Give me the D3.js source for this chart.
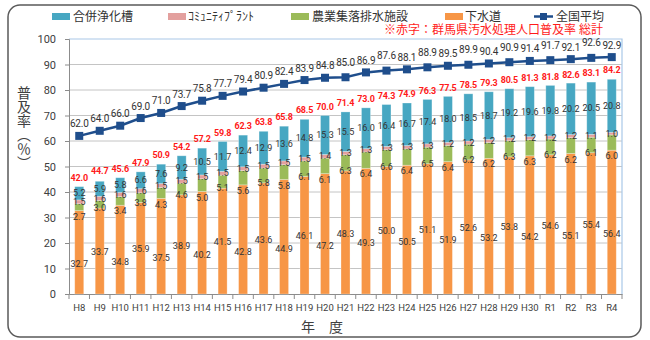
<!DOCTYPE html>
<html>
<head>
<meta charset="utf-8">
<script src="https://cdn.jsdelivr.net/npm/d3@7"></script>
<style>
  body { margin: 0; background: #fff; }
  svg text { font-family: Roboto, "Noto Sans CJK JP", sans-serif; }
</style>
</head>
<body>
<div id="chart"></div>
<script>
// 年度
const categories = ['H8','H9','H10','H11','H12','H13','H14','H15','H16','H17','H18','H19','H20',
  'H21','H22','H23','H24','H25','H26','H27','H28','H29','H30','R1','R2','R3','R4'];

// 下水道
const sewer = [32.7,33.7,34.8,35.9,37.5,38.9,40.2,41.5,42.8,43.6,44.9,46.1,47.2,
  48.3,49.3,50.0,50.5,51.1,51.9,52.6,53.2,53.8,54.2,54.6,55.1,55.4,56.4];
// 農業集落排水施設
const rural = [2.7,3.0,3.4,3.8,4.3,4.6,5.0,5.1,5.6,5.8,5.8,6.1,6.1,
  6.3,6.4,6.6,6.4,6.5,6.4,6.2,6.2,6.3,6.3,6.2,6.2,6.1,6.0];
// コミュニティプラント
const community = [1.5,1.6,1.6,1.6,1.5,1.5,1.5,1.5,1.5,1.5,1.5,1.5,1.4,
  1.3,1.3,1.3,1.3,1.3,1.2,1.2,1.2,1.2,1.2,1.2,1.2,1.1,1.0];
// 合併浄化槽
const johkasou = [5.2,5.9,5.8,6.6,7.6,9.2,10.5,11.7,12.4,12.9,13.6,14.8,15.3,
  15.5,16.0,16.4,16.7,17.4,18.0,18.5,18.7,19.2,19.6,19.8,20.2,20.5,20.8];
// 群馬県 総計 (赤字)
const totals = [42.0,44.7,45.6,47.9,50.9,54.2,57.2,59.8,62.3,63.8,65.8,68.5,70.0,
  71.4,73.0,74.3,74.9,76.3,77.5,78.5,79.3,80.5,81.3,81.8,82.6,83.1,84.2];
// 全国平均
const national = [62.0,64.0,66.0,69.0,71.0,73.7,75.8,77.7,79.4,80.9,82.4,83.9,84.8,
  85.0,86.9,87.6,88.1,88.9,89.5,89.9,90.4,90.9,91.4,91.7,92.1,92.6,92.9];

const yTicks = [0,10,20,30,40,50,60,70,80,90,100];

const keys = ['sewer','rural','community','johkasou'];
const names = { sewer: '下水道', rural: '農業集落排水施設', community: 'ｺﾐｭﾆﾃｨﾌﾟﾗﾝﾄ', johkasou: '合併浄化槽' };
const colors = { sewer: '#F79646', rural: '#9BBB59', community: '#E3A09E', johkasou: '#47A7C2' };

const rows = categories.map((c, i) => ({
  cat: c, i: i, sewer: sewer[i], rural: rural[i], community: community[i], johkasou: johkasou[i]
}));

const W = 650, H = 340;
const svg = d3.select('#chart').append('svg').attr('width', W).attr('height', H);

// outer rounded frame
svg.append('rect')
  .attr('x', 8).attr('y', 5).attr('width', 633).attr('height', 332)
  .attr('rx', 12).attr('ry', 12)
  .attr('fill', '#fff').attr('stroke', '#5a5a5a').attr('stroke-width', 1.5);

const plot = { left: 69, right: 622, top: 39, bottom: 294 };

const x = d3.scaleBand()
  .domain(categories)
  .range([plot.left, plot.right])
  .paddingInner(0.56)
  .paddingOuter(0.28);

const y = d3.scaleLinear().domain([0, 100]).range([plot.bottom, plot.top]);
const cx = i => x(categories[i]) + x.bandwidth() / 2;

// grid lines
svg.append('g').selectAll('line')
  .data(yTicks.filter(d => d > 0 && d < 100))
  .enter().append('line')
    .attr('x1', plot.left).attr('x2', plot.right)
    .attr('y1', d => y(d)).attr('y2', d => y(d))
    .attr('stroke', '#c4c4c4').attr('stroke-width', 1);

// plot border top/right (light blue)
svg.append('path')
  .attr('d', `M${plot.left},${y(100)}H${plot.right}V${plot.bottom}`)
  .attr('fill', 'none').attr('stroke', '#a9c8e8').attr('stroke-width', 1.2);

// y axis
const yAxis = svg.append('g')
  .attr('transform', `translate(${plot.left},0)`)
  .call(d3.axisLeft(y).tickValues(yTicks).tickSize(4).tickPadding(9).tickFormat(d3.format('d')));
yAxis.select('.domain').attr('stroke', '#8c8c8c');
yAxis.selectAll('.tick line').attr('stroke', '#8c8c8c');
yAxis.selectAll('.tick text').attr('font-size', 11).attr('fill', '#404040');

// x axis
const xAxis = svg.append('g')
  .attr('transform', `translate(0,${plot.bottom})`)
  .call(d3.axisBottom(x).tickSize(0).tickPadding(10));
xAxis.select('.domain').attr('stroke', '#8c8c8c');
xAxis.selectAll('.tick text').attr('font-size', 9.5).attr('fill', '#404040');
svg.append('g').selectAll('line')
  .data(d3.range(categories.length + 1))
  .enter().append('line')
    .attr('x1', i => plot.left + i * x.step()).attr('x2', i => plot.left + i * x.step())
    .attr('y1', plot.bottom).attr('y2', plot.bottom + 5)
    .attr('stroke', '#8c8c8c');

// stacked bars
const stacked = d3.stack().keys(keys)(rows);
const layers = svg.append('g').selectAll('g')
  .data(stacked)
  .enter().append('g')
    .attr('fill', d => colors[d.key]);
layers.selectAll('rect')
  .data(d => d)
  .enter().append('rect')
    .attr('x', d => x(d.data.cat))
    .attr('y', d => y(d[1]))
    .attr('width', x.bandwidth())
    .attr('height', d => y(d[0]) - y(d[1]))
    .attr('stroke', 'rgba(255,255,255,0.35)')
    .attr('stroke-width', 0.8);

// segment value labels
function labelY(key, d) {
  const i = d.data.i;
  const mid = (y(d[0]) + y(d[1])) / 2;
  if (key === 'sewer') return mid + (i % 2 === 0 ? 12 : 1);
  if (key === 'rural') return y(d[0]) + (i % 2 === 0 ? 6 : 0);
  return mid;
}
const labelLayers = svg.append('g').selectAll('g')
  .data(stacked)
  .enter().append('g');
labelLayers.selectAll('text')
  .data(d => d.map(s => ({ key: d.key, s: s })))
  .enter().append('text')
    .attr('x', d => cx(d.s.data.i))
    .attr('y', d => labelY(d.key, d.s))
    .attr('dy', '0.35em')
    .attr('text-anchor', 'middle')
    .attr('font-size', 9)
    .attr('fill', '#333')
    .text(d => d3.format('.1f')(d.s.data[d.key]));

// red totals
svg.append('g').selectAll('text')
  .data(totals)
  .enter().append('text')
    .attr('x', (d, i) => cx(i))
    .attr('y', d => y(d) - 9)
    .attr('dy', '0.35em')
    .attr('text-anchor', 'middle')
    .attr('font-size', 9)
    .attr('font-weight', 'bold')
    .attr('letter-spacing', -0.2)
    .attr('fill', '#ff1a1a')
    .text(d => d.toFixed(1));

// national average line
const lineColor = '#1F4E8C';
const line = d3.line()
  .x((d, i) => cx(i))
  .y(d => y(d));
svg.append('path')
  .datum(national)
  .attr('d', line)
  .attr('fill', 'none')
  .attr('stroke', lineColor)
  .attr('stroke-width', 2.5);
svg.append('g').selectAll('rect')
  .data(national)
  .enter().append('rect')
    .attr('x', (d, i) => cx(i) - 4)
    .attr('y', d => y(d) - 4)
    .attr('width', 8).attr('height', 8)
    .attr('fill', lineColor);
svg.append('g').selectAll('text')
  .data(national)
  .enter().append('text')
    .attr('x', (d, i) => cx(i))
    .attr('y', (d, i) => y(d) - (i >= 13 && i % 2 === 1 ? 15 : 12))
    .attr('dy', '0.35em')
    .attr('text-anchor', 'middle')
    .attr('font-size', 10)
    .attr('letter-spacing', -0.2)
    .attr('fill', '#333')
    .text(d => d.toFixed(1));

// legend
const legendItems = [
  { key: 'johkasou', x: 52, tx: 73 },
  { key: 'community', x: 168, tx: 188 },
  { key: 'rural', x: 291, tx: 312 },
  { key: 'sewer', x: 445, tx: 465 }
];
const legend = svg.append('g');
legendItems.forEach(item => {
  legend.append('rect')
    .attr('x', item.x).attr('y', 13).attr('width', 18).attr('height', 7)
    .attr('fill', colors[item.key]);
  legend.append('text')
    .attr('x', item.tx).attr('y', 17).attr('dy', '0.35em')
    .attr('font-size', 12).attr('fill', '#333')
    .attr('font-family', '"Noto Sans CJK JP", sans-serif')
    .text(names[item.key]);
});
legend.append('line')
  .attr('x1', 534).attr('x2', 553).attr('y1', 16.5).attr('y2', 16.5)
  .attr('stroke', lineColor).attr('stroke-width', 2.5);
legend.append('rect')
  .attr('x', 540).attr('y', 13).attr('width', 7).attr('height', 7)
  .attr('fill', lineColor);
legend.append('text')
  .attr('x', 556).attr('y', 17).attr('dy', '0.35em')
  .attr('font-size', 12).attr('fill', '#333')
  .attr('font-family', '"Noto Sans CJK JP", sans-serif')
  .text('全国平均');

// note in red
svg.append('text')
  .attr('x', 603).attr('y', 30).attr('dy', '0.35em')
  .attr('text-anchor', 'end')
  .attr('font-size', 12).attr('fill', '#ff1a1a')
  .attr('font-family', '"Noto Sans CJK JP", sans-serif')
  .text('※赤字：群馬県汚水処理人口普及率 総計');

// axis titles
svg.append('text')
  .attr('x', 23).attr('y', 86)
  .attr('writing-mode', 'vertical-rl')
  .attr('font-size', 14).attr('fill', '#404040')
  .attr('font-family', '"Noto Sans CJK JP", sans-serif')
  .text('普及率（％）');

svg.append('text')
  .attr('x', 322).attr('y', 327).attr('dy', '0.35em')
  .attr('text-anchor', 'middle')
  .attr('font-size', 14).attr('fill', '#404040')
  .attr('font-family', '"Noto Sans CJK JP", sans-serif')
  .text('年　度');
</script>
</body>
</html>
